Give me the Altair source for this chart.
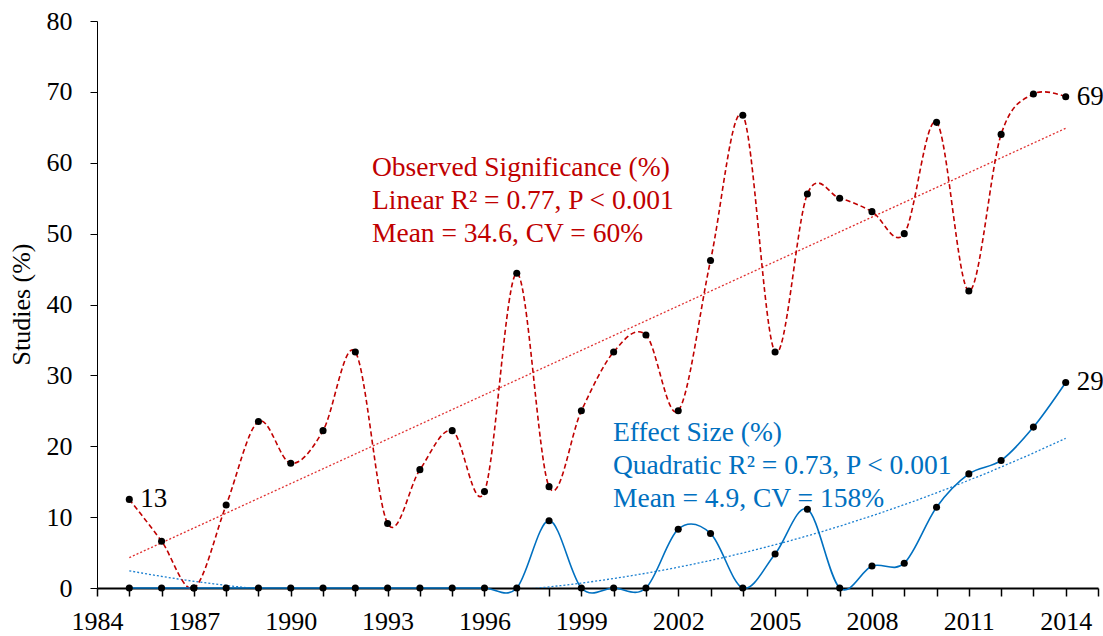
import altair as alt
import pandas as pd

years = list(range(1985, 2015))
observed = [12.5, 6.6, 0.0, 11.7, 23.5, 17.6, 22.2, 33.3, 9.1, 16.7,
            22.2, 13.6, 44.4, 14.3, 25.0, 33.3, 35.7, 25.0, 46.2, 66.7,
            33.3, 55.6, 55.0, 53.1, 50.0, 65.7, 41.9, 64.0, 69.7, 69.3]
effect = [0, 0, 0, 0, 0, 0, 0, 0, 0, 0, 0, 0, 0, 9.5, 0, 0, 0, 8.3, 7.7, 0,
          4.8, 11.1, 0, 3.1, 3.5, 11.4, 16.1, 18.0, 22.7, 29.0]

obs_text = ["Observed Significance (%)", "Linear R\u00b2 = 0.77, P < 0.001", "Mean = 34.6, CV = 60%"]
eff_text = ["Effect Size (%)", "Quadratic R\u00b2 = 0.73, P < 0.001", "Mean = 4.9, CV = 158%"]

RED = "#C00000"
BLUE = "#0070C0"
FONT = "Liberation Serif"

df = pd.DataFrame({
    "year": years * 2,
    "value": observed + effect,
    "series": ["obs"] * len(years) + ["eff"] * len(years),
})

x_enc = alt.X(
    "year:Q",
    scale=alt.Scale(domain=[1984, 2015], nice=False, zero=False),
    axis=alt.Axis(
        values=list(range(1984, 2016)),
        labelExpr="(datum.value - 1984) % 3 == 0 ? datum.label : ''",
        format="d", title=None, grid=False, tickSize=8, tickWidth=1.5,
        domainWidth=2, labelPadding=12, labelOverlap=False, labelFlush=False,
        labelFont=FONT, labelFontSize=26, labelColor="black",
        domainColor="black", tickColor="black",
    ),
)
y_enc = alt.Y(
    "value:Q",
    scale=alt.Scale(domain=[0, 80], nice=False),
    axis=alt.Axis(
        values=list(range(0, 81, 10)), title="Studies (%)", grid=False,
        tickSize=7, labelPadding=18, labelFlush=False, labelOverlap=False,
        titleX=-63, titleY=283, titleAngle=-90,
        labelFont=FONT, labelFontSize=26, labelColor="black",
        titleFont=FONT, titleFontSize=26, titleFontWeight="normal", titleColor="black",
        domainColor="black", tickColor="black",
    ),
)

base = alt.Chart(df).encode(x=x_enc, y=y_enc)

red_trend = base.transform_filter(alt.datum.series == "obs").transform_regression(
    "year", "value", method="linear", extent=[1985, 2014]
).mark_line(color="#E03030", strokeDash=[2, 2], strokeWidth=1.3)

blue_trend = base.transform_filter(alt.datum.series == "eff").transform_regression(
    "year", "value", method="poly", order=2, extent=[1985, 2014]
).mark_line(color="#1A7FD0", strokeDash=[2, 2], strokeWidth=1.3, clip=True)

red_line = base.transform_filter(alt.datum.series == "obs").mark_line(
    color=RED, strokeDash=[5, 3], strokeWidth=1.6, interpolate="cardinal"
)
blue_line = base.transform_filter(alt.datum.series == "eff").mark_line(
    color=BLUE, strokeWidth=1.6, interpolate="cardinal"
)

points = base.mark_circle(size=50, color="black", opacity=1)

end_labels = base.transform_filter(
    "(datum.series == 'obs' && (datum.year == 1985 || datum.year == 2014)) || (datum.series == 'eff' && datum.year == 2014)"
).mark_text(align="left", baseline="middle", dx=11, font=FONT, fontSize=27, color="black").encode(
    text=alt.Text("value:Q", format=".0f")
)

one = pd.DataFrame({"k": [0]})
red_note = alt.Chart(one).mark_text(
    align="left", baseline="top", font=FONT, fontSize=27.5, color=RED, lineHeight=33
).encode(x=alt.value(275), y=alt.value(133), text=alt.value(obs_text))

blue_note = alt.Chart(one).mark_text(
    align="left", baseline="top", font=FONT, fontSize=27.5, color=BLUE, lineHeight=33
).encode(x=alt.value(516), y=alt.value(398), text=alt.value(eff_text))

chart = alt.layer(
    red_trend, blue_trend, red_line, blue_line, points, end_labels, red_note, blue_note
).properties(
    width=1001, height=567,
    background="white",
    autosize=alt.AutoSizeParams(type="none"),
    padding={"left": 97, "top": 21, "right": 5, "bottom": 48},
).configure_view(stroke=None)

chart.save("out.html", embed_options={"renderer": "svg", "actions": False})
